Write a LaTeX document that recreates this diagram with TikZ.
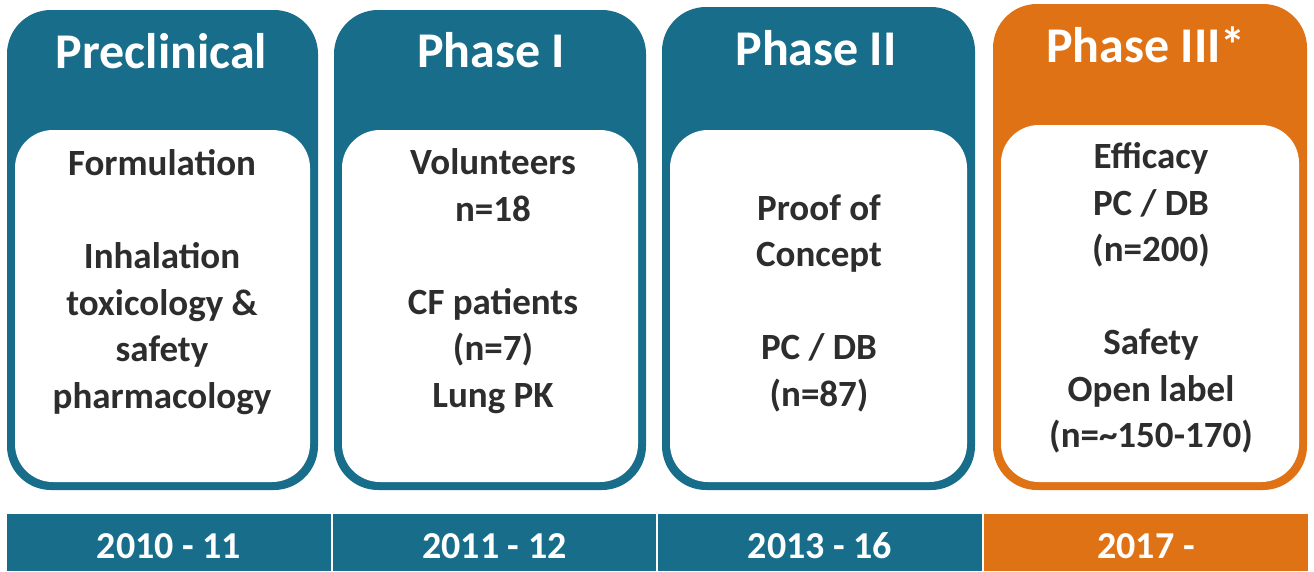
\documentclass[tikz,border=0pt]{standalone}
\usepackage{fontspec}
\setmainfont{Carlito}
\usepackage{tikz}
\usetikzlibrary{positioning}

\definecolor{petrol}{RGB}{24,110,138}
\definecolor{amber}{RGB}{224,114,22}
\definecolor{ink}{RGB}{45,45,45}

\tikzset{
  card/.style={fill=#1, rounded corners=44pt, inner sep=0pt},
  panel/.style={fill=white, rounded corners=38pt, inner sep=0pt, minimum width=#1},
  head/.style={text=white, anchor=base, font=\fontsize{50}{58}\selectfont\bfseries},
  body/.style={text=ink, align=center, font=\fontsize{37}{46.5}\selectfont\bfseries},
  yearbar/.style={fill=#1, inner sep=0pt, minimum width=324pt, minimum height=57pt,
    text height=32pt, text depth=0pt,
    text=white, font=\fontsize{38}{44}\selectfont\bfseries},
}

\begin{document}
\begin{tikzpicture}[x=1pt,y=-1pt]
\useasboundingbox[fill=white] (0,0) rectangle (1314,571);

% the four phase cards
\node[card=petrol, minimum width=311pt, minimum height=480pt] (pre) at (162.5,250) {};
\node[card=petrol, minimum width=312pt, minimum height=480pt] (ph1) at (490,250) {};
\node[card=petrol, minimum width=313pt, minimum height=483pt] (ph2) at (818.5,248.5) {};
\node[card=amber, minimum width=314pt, minimum height=486pt] (ph3) at (1150,247) {};

% white panels inside
\node[panel=295pt, minimum height=352pt, above=8pt of pre.south] (preP) {};
\node[panel=296pt, minimum height=352pt, above=8pt of ph1.south] (ph1P) {};
\node[panel=297pt, minimum height=352pt, above=8pt of ph2.south] (ph2P) {};
\node[panel=298pt, minimum height=357pt, above=8pt of ph3.south] (ph3P) {};

% titles
\node[head] (preT) at (161.5,68) {Preclinical};
\node[head] (ph1T) at (491,67) {Phase I};
\node[head] (ph2T) at (816,65) {Phase II};
\node[head] (ph3T) at (1146,62) {Phase III*};

% panel texts
\node[body] (preB) at (162,282) {Formulation\\ \\ Inhalation\\ toxicology \&\\ safety\\ pharmacology};
\node[body] (ph1B) at (493,281) {Volunteers\\ n=18\\ \\ CF patients\\ (n=7)\\ Lung PK};
\node[body] (ph2B) at (819,303) {Proof of\\ Concept\\ \\ PC / DB\\ (n=87)};
\node[body] (ph3B) at (1151,298) {Efficacy\\ PC / DB\\ (n=200)\\ \\ Safety\\ Open label\\ (n=\char`\~150-170)};

% time line
\node[yearbar=petrol] (y1) at (169,542.5) {2010 - 11};
\node[yearbar=petrol, minimum width=323pt] (y2) at (494.5,542.5) {2011 - 12};
\node[yearbar=petrol] (y3) at (820,542.5) {2013 - 16};
\node[yearbar=amber] (y4) at (1146,542.5) {2017 -};
\end{tikzpicture}
\end{document}
